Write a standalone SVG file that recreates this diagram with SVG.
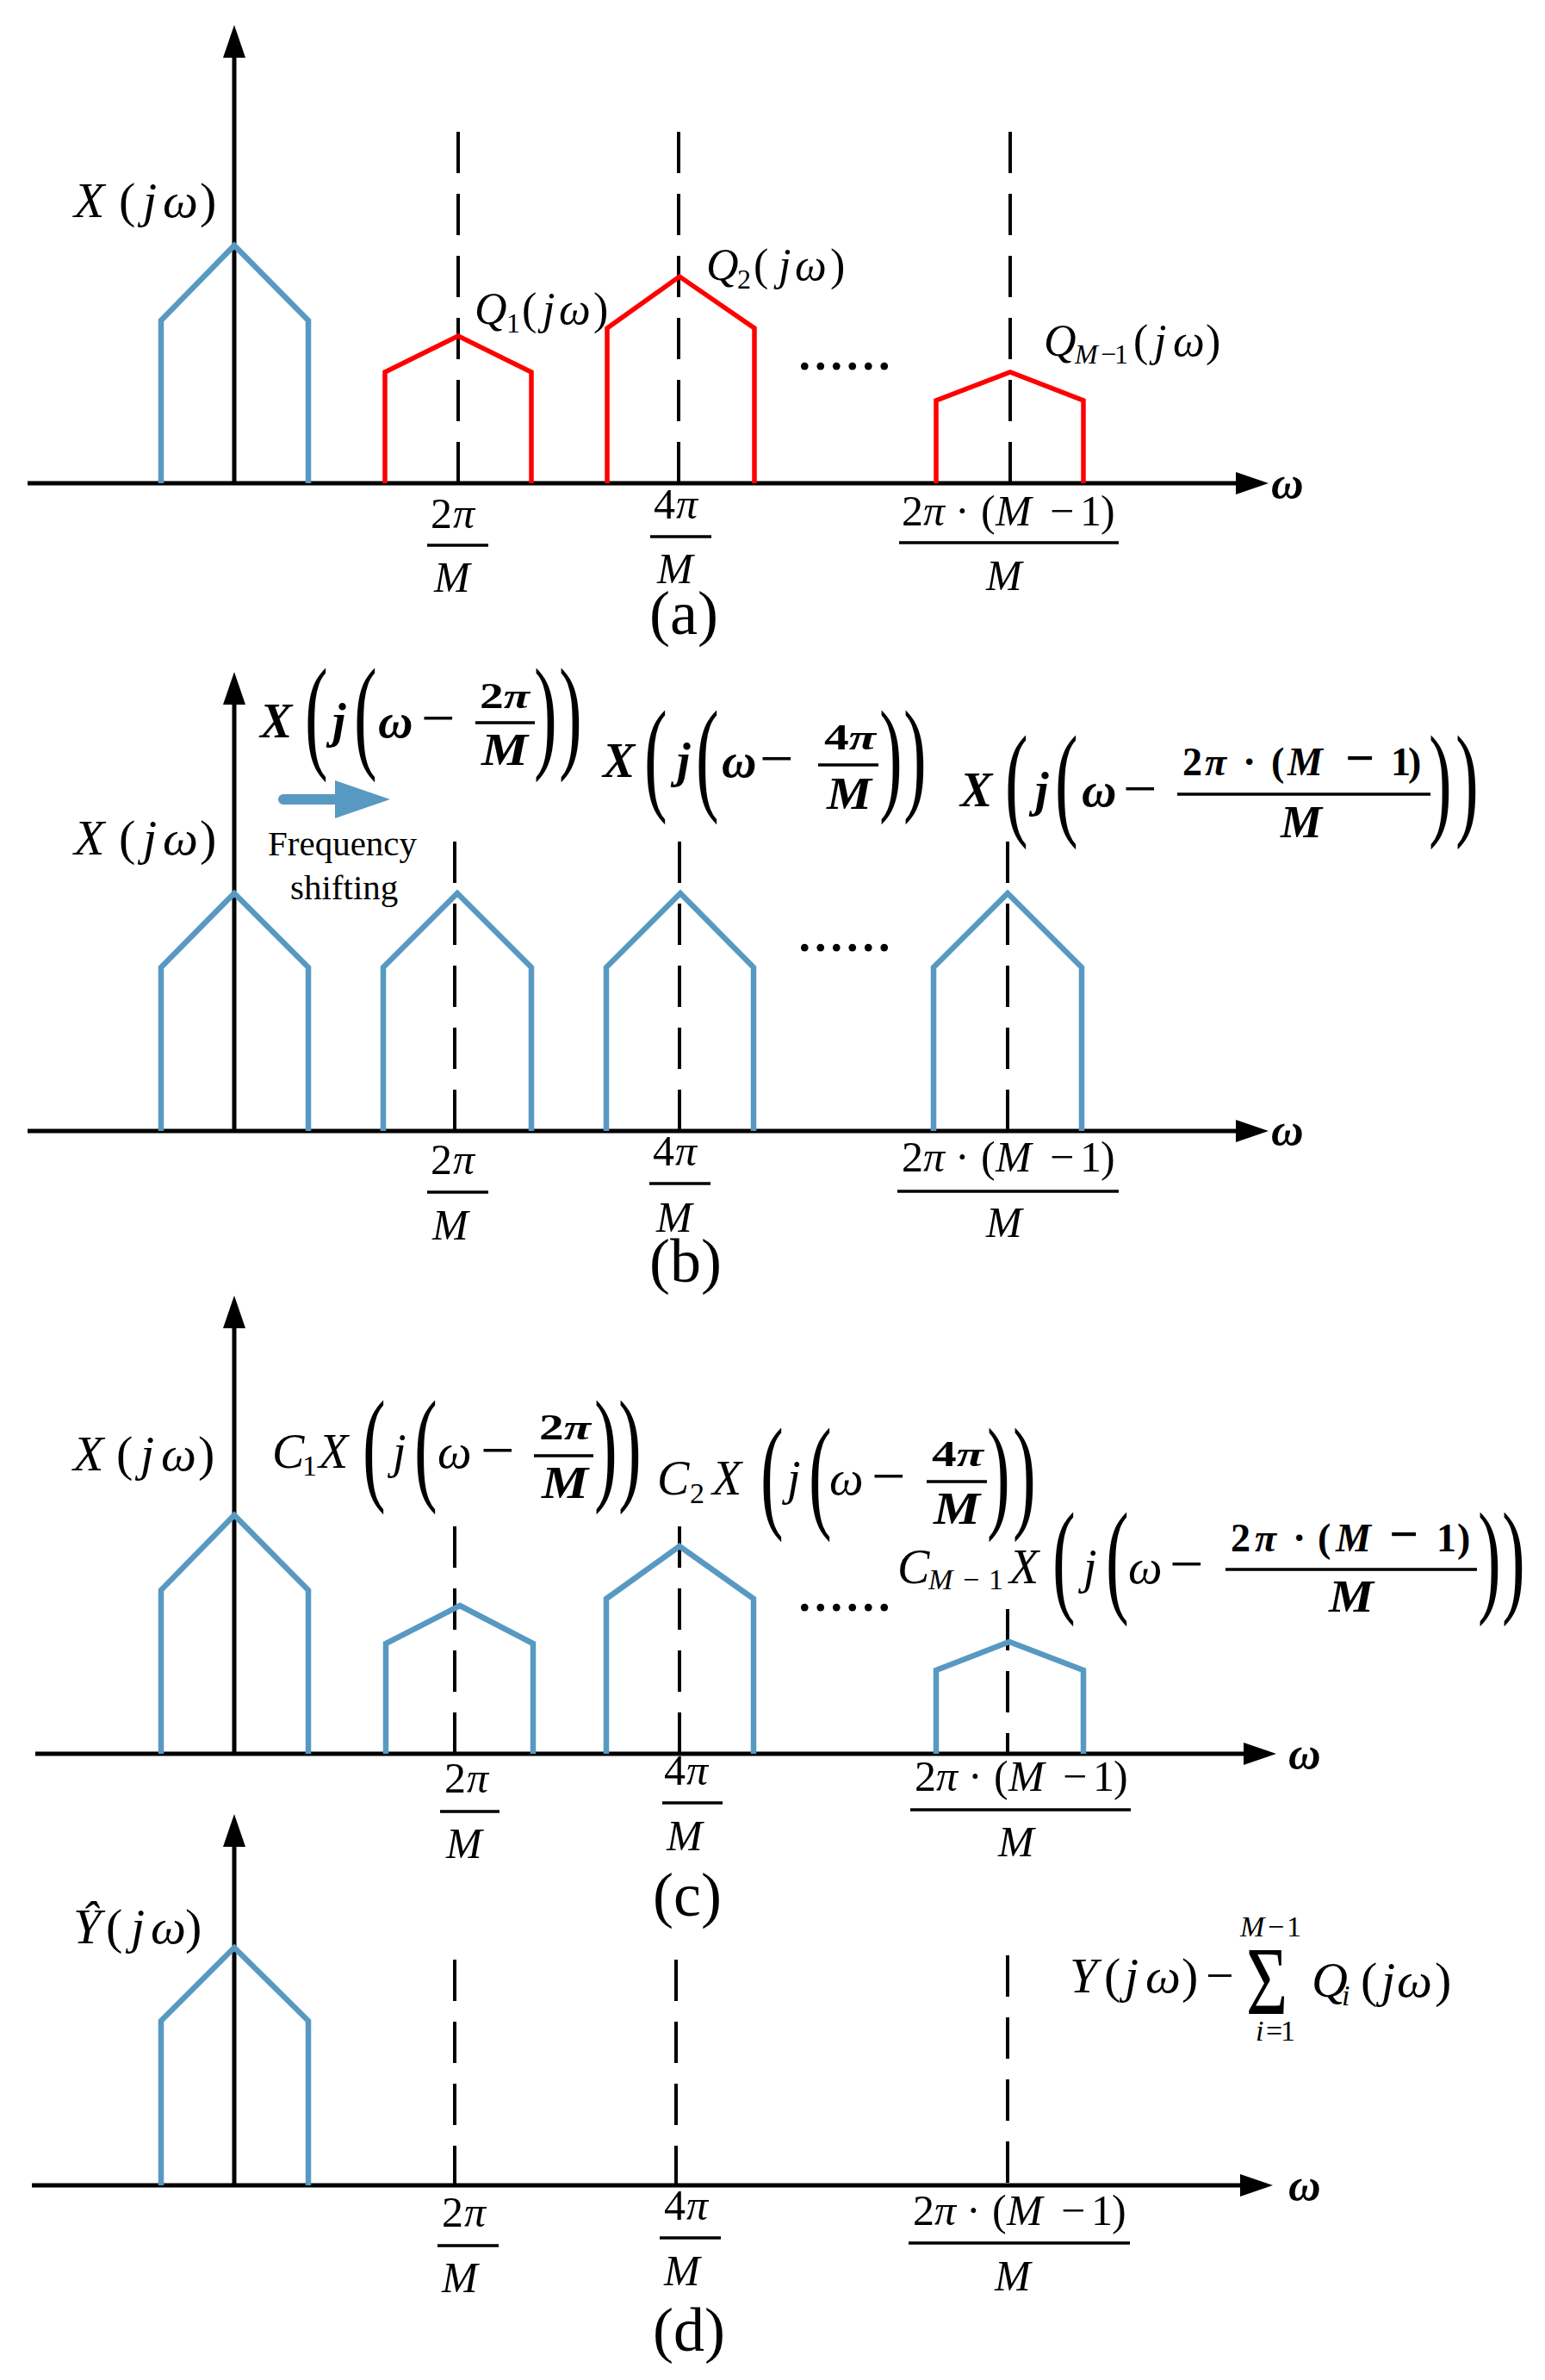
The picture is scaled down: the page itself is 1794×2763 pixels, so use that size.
<svg xmlns="http://www.w3.org/2000/svg" width="1794" height="2763" viewBox="0 0 1794 2763">
<defs>
<style>
.s{font-family:"Liberation Serif","Times New Roman",serif;fill:#000}
.i{font-style:italic}
.n{font-style:normal}
.b{font-weight:bold}
.ax{stroke:#000;stroke-width:5;fill:none}
.dl{stroke:#000;stroke-width:4;stroke-dasharray:48 24;fill:none}
.bl{stroke:#5899C2;stroke-width:6.5;fill:none;stroke-linejoin:miter}
.rd{stroke:#FF0000;stroke-width:5.5;fill:none;stroke-linejoin:miter}
.fb{stroke:#000;stroke-width:3.5}
.lb{font-size:58px}
.ql{font-size:52px}
.sb{font-size:32px}
.tk{font-size:50px}
.bp{font-size:146px}
.pl{font-size:72px}
.om{font-size:52px}
.dots{font-size:74px}
.fx{font-size:56px}
.mn{font-size:70px}
</style>
<marker id="ah" markerUnits="userSpaceOnUse" markerWidth="40" markerHeight="28" refX="0" refY="14" orient="auto" viewBox="0 0 40 28"><path d="M0,1 L38,14 L0,27 z" fill="#000"/></marker>
</defs>
<rect width="1794" height="2763" fill="#fff"/>

<!-- ================= PANEL (a) ================= -->
<g id="panel-a">
<g id="connectors-a">
<line class="ax" x1="32" y1="561" x2="1435" y2="561" marker-end="url(#ah)"/>
<line class="ax" x1="272" y1="561" x2="272" y2="67" marker-end="url(#ah)"/>
<line class="dl" x1="532" y1="153" x2="532" y2="561"/>
<line class="dl" x1="788" y1="153" x2="788" y2="561"/>
<line class="dl" x1="1173" y1="153" x2="1173" y2="561"/>
</g>
<polyline id="a-x0" class="bl" points="187,561 187,372 272,285 358,372 358,561"/>
<polyline id="a-q1" class="rd" points="447,561 447,432 532,390 617,432 617,561"/>
<polyline id="a-q2" class="rd" points="705,561 705,381 789,321 876,381 876,561"/>
<polyline id="a-qm" class="rd" points="1087,561 1087,465 1173,432 1258,465 1258,561"/>
<text class="s i lb" y="252"><tspan x="86">X</tspan><tspan class="n" x="138">(</tspan><tspan x="166">j</tspan><tspan x="189">ω</tspan><tspan class="n" x="232">)</tspan></text>
<g id="a-q1-label"><text class="s i ql" y="376"><tspan x="551">Q</tspan><tspan class="n" x="606">(</tspan><tspan x="630">j</tspan><tspan x="649">ω</tspan><tspan class="n" x="689">)</tspan></text><text class="s sb" x="588" y="386">1</text></g>
<g id="a-q2-label"><text class="s i ql" y="325"><tspan x="820">Q</tspan><tspan class="n" x="875">(</tspan><tspan x="904">j</tspan><tspan x="923">ω</tspan><tspan class="n" x="964">)</tspan></text><text class="s sb" x="856" y="335">2</text></g>
<g id="a-qm-label"><text class="s i ql" y="413"><tspan x="1212">Q</tspan><tspan class="n" x="1316">(</tspan><tspan x="1340">j</tspan><tspan x="1362">ω</tspan><tspan class="n" x="1400">)</tspan></text><text class="s sb" y="422"><tspan class="i" x="1248">M</tspan><tspan x="1278">−</tspan><tspan x="1294">1</tspan></text></g>
<text class="s dots" x="925" y="429">......</text>
<text class="s i b om" x="1476" y="578">ω</text>
<g id="a-t1" transform="translate(500,613)"><text class="s tk"><tspan x="0">2</tspan><tspan class="i" x="26">π</tspan></text><line class="fb" x1="-4" y1="20" x2="67" y2="20"/><text class="s i tk" x="4" y="74">M</text></g>
<g id="a-t2" transform="translate(759,602)"><text class="s tk"><tspan x="0">4</tspan><tspan class="i" x="26">π</tspan></text><line class="fb" x1="-4" y1="21" x2="67" y2="21"/><text class="s i tk" x="4" y="75">M</text></g>
<g id="a-t3" transform="translate(1047,610)"><text class="s tk"><tspan x="0">2</tspan><tspan class="i" x="25">π</tspan><tspan x="62">·</tspan><tspan x="92">(</tspan><tspan class="i" x="109">M</tspan><tspan x="172">−</tspan><tspan x="207">1</tspan><tspan x="231">)</tspan></text><line class="fb" x1="-3" y1="20" x2="252" y2="20"/><text class="s i tk" x="98" y="75">M</text></g>
<text class="s pl" x="754" y="736">(a)</text>
</g>

<!-- ================= PANEL (b) ================= -->
<g id="panel-b">
<g id="connectors-b">
<line class="ax" x1="32" y1="1313" x2="1435" y2="1313" marker-end="url(#ah)"/>
<line class="ax" x1="272" y1="1313" x2="272" y2="818" marker-end="url(#ah)"/>
<line class="dl" x1="528" y1="977" x2="528" y2="1313"/>
<line class="dl" x1="789" y1="977" x2="789" y2="1313"/>
<line class="dl" x1="1170" y1="977" x2="1170" y2="1313"/>
</g>
<polyline id="b-x0" class="bl" points="187,1313 187,1123 272,1037 358,1123 358,1313"/>
<polyline id="b-x1" class="bl" points="445,1313 445,1123 531,1037 617,1123 617,1313"/>
<polyline id="b-x2" class="bl" points="704,1313 704,1123 790,1037 875,1123 875,1313"/>
<polyline id="b-xm" class="bl" points="1084,1313 1084,1123 1170,1037 1256,1123 1256,1313"/>
<g id="b-shift">
<line x1="329" y1="928" x2="392" y2="928" stroke="#5899C2" stroke-width="12" stroke-linecap="round"/>
<polygon points="389,906 453,928 389,950" fill="#5899C2"/>
<text class="s" font-size="41" x="311" y="993">Frequency</text>
<text class="s" font-size="41" x="337" y="1044">shifting</text>
</g>
<text class="s i lb" y="992"><tspan x="86">X</tspan><tspan class="n" x="138">(</tspan><tspan x="166">j</tspan><tspan x="189">ω</tspan><tspan class="n" x="232">)</tspan></text>
<g id="b-f1">
<text class="s i b fx" y="856"><tspan x="302">X</tspan><tspan x="386">j</tspan><tspan x="439">ω</tspan></text>
<text class="s mn" x="489" y="857">−</text>
<text class="s b" font-size="42" y="822" x="557" textLength="58" lengthAdjust="spacingAndGlyphs">2<tspan class="i">π</tspan></text>
<line class="fb" x1="552" y1="839" x2="621" y2="839"/>
<text class="s i b" font-size="52" x="559" y="888" textLength="54" lengthAdjust="spacingAndGlyphs">M</text>
<text class="s bp" transform="translate(354,877) scale(0.55,1)">(</text>
<text class="s bp" transform="translate(411,877) scale(0.55,1)">(</text>
<text class="s bp" transform="translate(620,877) scale(0.55,1)">)</text>
<text class="s bp" transform="translate(649,877) scale(0.55,1)">)</text>
</g>
<g id="b-f2">
<text class="s i b fx" y="902"><tspan x="700">X</tspan><tspan x="786">j</tspan><tspan x="838">ω</tspan></text>
<text class="s mn" x="882" y="904">−</text>
<text class="s b" font-size="42" y="870" x="957" textLength="60" lengthAdjust="spacingAndGlyphs">4<tspan class="i">π</tspan></text>
<line class="fb" x1="950" y1="888" x2="1020" y2="888"/>
<text class="s i b" font-size="52" x="960" y="939" textLength="52" lengthAdjust="spacingAndGlyphs">M</text>
<text class="s bp" transform="translate(748,926) scale(0.55,1)">(</text>
<text class="s bp" transform="translate(808,926) scale(0.55,1)">(</text>
<text class="s bp" transform="translate(1021,926) scale(0.55,1)">)</text>
<text class="s bp" transform="translate(1049,926) scale(0.55,1)">)</text>
</g>
<g id="b-f3">
<text class="s i b fx" y="936"><tspan x="1115">X</tspan><tspan x="1202">j</tspan><tspan x="1256">ω</tspan></text>
<text class="s mn" x="1304" y="939">−</text>
<text class="s b" font-size="46" y="900"><tspan x="1373">2</tspan><tspan class="i" x="1399">π</tspan><tspan x="1443">·</tspan><tspan x="1476">(</tspan><tspan class="i" x="1495">M</tspan><tspan font-size="60" x="1562">−</tspan><tspan x="1615">1</tspan><tspan x="1635">)</tspan></text>
<line class="fb" x1="1367" y1="922" x2="1661" y2="922"/>
<text class="s i b" font-size="52" x="1487" y="972" textLength="48" lengthAdjust="spacingAndGlyphs">M</text>
<text class="s bp" transform="translate(1167,955) scale(0.55,1)">(</text>
<text class="s bp" transform="translate(1225,955) scale(0.55,1)">(</text>
<text class="s bp" transform="translate(1659,955) scale(0.55,1)">)</text>
<text class="s bp" transform="translate(1690,955) scale(0.55,1)">)</text>
</g>
<text class="s dots" x="925" y="1104">......</text>
<text class="s i b om" x="1476" y="1329">ω</text>
<g id="b-t1" transform="translate(500,1363)"><text class="s tk"><tspan x="0">2</tspan><tspan class="i" x="26">π</tspan></text><line class="fb" x1="-4" y1="21" x2="67" y2="21"/><text class="s i tk" x="2" y="76">M</text></g>
<g id="b-t2" transform="translate(758,1353)"><text class="s tk"><tspan x="0">4</tspan><tspan class="i" x="26">π</tspan></text><line class="fb" x1="-4" y1="21" x2="67" y2="21"/><text class="s i tk" x="4" y="77">M</text></g>
<g id="b-t3" transform="translate(1047,1360)"><text class="s tk"><tspan x="0">2</tspan><tspan class="i" x="25">π</tspan><tspan x="62">·</tspan><tspan x="92">(</tspan><tspan class="i" x="109">M</tspan><tspan x="172">−</tspan><tspan x="207">1</tspan><tspan x="231">)</tspan></text><line class="fb" x1="-5" y1="23" x2="252" y2="23"/><text class="s i tk" x="98" y="76">M</text></g>
<text class="s pl" x="754" y="1488">(b)</text>
</g>

<!-- ================= PANEL (c) ================= -->
<g id="panel-c">
<g id="connectors-c">
<line class="ax" x1="41" y1="2036" x2="1444" y2="2036" marker-end="url(#ah)"/>
<line class="ax" x1="272" y1="2036" x2="272" y2="1542" marker-end="url(#ah)"/>
<line class="dl" x1="528" y1="1772" x2="528" y2="2036"/>
<line class="dl" x1="789" y1="1772" x2="789" y2="2036"/>
<line class="dl" x1="1170" y1="1868" x2="1170" y2="2036"/>
</g>
<polyline id="c-x0" class="bl" points="187,2036 187,1846 272,1759 358,1846 358,2036"/>
<polyline id="c-x1" class="bl" points="448,2036 448,1908 534,1864 619,1908 619,2036"/>
<polyline id="c-x2" class="bl" points="704,2036 704,1856 789,1795 875,1856 875,2036"/>
<polyline id="c-xm" class="bl" points="1087,2036 1087,1939 1172,1906 1258,1939 1258,2036"/>
<text class="s i lb" y="1707"><tspan x="85">X</tspan><tspan class="n" x="135">(</tspan><tspan x="163">j</tspan><tspan x="187">ω</tspan><tspan class="n" x="230">)</tspan></text>
<g id="c-f1">
<text class="s i fx" y="1704"><tspan x="316">C</tspan><tspan x="370">X</tspan><tspan x="456">j</tspan><tspan x="508">ω</tspan></text>
<text class="s" font-size="34" x="351" y="1713">1</text>
<text class="s mn" x="558" y="1707">−</text>
<text class="s b" font-size="42" y="1671" x="626" textLength="60" lengthAdjust="spacingAndGlyphs">2<tspan class="i">π</tspan></text>
<line class="fb" x1="620" y1="1690" x2="689" y2="1690"/>
<text class="s i b" font-size="52" x="629" y="1739" textLength="54" lengthAdjust="spacingAndGlyphs">M</text>
<text class="s bp" transform="translate(421,1727) scale(0.55,1)">(</text>
<text class="s bp" transform="translate(481,1727) scale(0.55,1)">(</text>
<text class="s bp" transform="translate(690,1727) scale(0.55,1)">)</text>
<text class="s bp" transform="translate(718,1727) scale(0.55,1)">)</text>
</g>
<g id="c-f2">
<text class="s i fx" y="1735"><tspan x="763">C</tspan><tspan x="827">X</tspan><tspan x="914">j</tspan><tspan x="963">ω</tspan></text>
<text class="s" font-size="34" x="801" y="1745">2</text>
<text class="s mn" x="1012" y="1737">−</text>
<text class="s b" font-size="42" y="1702" x="1082" textLength="60" lengthAdjust="spacingAndGlyphs">4<tspan class="i">π</tspan></text>
<line class="fb" x1="1076" y1="1720" x2="1146" y2="1720"/>
<text class="s i b" font-size="52" x="1084" y="1769" textLength="54" lengthAdjust="spacingAndGlyphs">M</text>
<text class="s bp" transform="translate(883,1759) scale(0.55,1)">(</text>
<text class="s bp" transform="translate(939,1759) scale(0.55,1)">(</text>
<text class="s bp" transform="translate(1146,1759) scale(0.55,1)">)</text>
<text class="s bp" transform="translate(1176,1759) scale(0.55,1)">)</text>
</g>
<g id="c-f3">
<text class="s i fx" y="1838"><tspan x="1042">C</tspan><tspan x="1172">X</tspan><tspan x="1258">j</tspan><tspan x="1310">ω</tspan></text>
<text class="s" font-size="34" y="1845"><tspan class="i" x="1078">M</tspan><tspan x="1118">−</tspan><tspan x="1148">1</tspan></text>
<text class="s mn" x="1358" y="1839">−</text>
<text class="s b" font-size="46" y="1801"><tspan x="1429">2</tspan><tspan class="i" x="1457">π</tspan><tspan x="1501">·</tspan><tspan x="1530">(</tspan><tspan class="i" x="1551">M</tspan><tspan font-size="60" x="1613">−</tspan><tspan x="1668">1</tspan><tspan x="1692">)</tspan></text>
<line class="fb" x1="1423" y1="1822" x2="1715" y2="1822"/>
<text class="s i b" font-size="52" x="1543" y="1871" textLength="52" lengthAdjust="spacingAndGlyphs">M</text>
<text class="s bp" transform="translate(1222,1857) scale(0.55,1)">(</text>
<text class="s bp" transform="translate(1284,1857) scale(0.55,1)">(</text>
<text class="s bp" transform="translate(1716,1857) scale(0.55,1)">)</text>
<text class="s bp" transform="translate(1744,1857) scale(0.55,1)">)</text>
</g>
<text class="s dots" x="925" y="1870">......</text>
<text class="s i b om" x="1496" y="2053">ω</text>
<g id="c-t1" transform="translate(516,2081)"><text class="s tk"><tspan x="0">2</tspan><tspan class="i" x="26">π</tspan></text><line class="fb" x1="-5" y1="22" x2="64" y2="22"/><text class="s i tk" x="2" y="76">M</text></g>
<g id="c-t2" transform="translate(771,2072)"><text class="s tk"><tspan x="0">4</tspan><tspan class="i" x="26">π</tspan></text><line class="fb" x1="-2" y1="21" x2="68" y2="21"/><text class="s i tk" x="3" y="76">M</text></g>
<g id="c-t3" transform="translate(1062,2079)"><text class="s tk"><tspan x="0">2</tspan><tspan class="i" x="25">π</tspan><tspan x="62">·</tspan><tspan x="92">(</tspan><tspan class="i" x="109">M</tspan><tspan x="172">−</tspan><tspan x="207">1</tspan><tspan x="231">)</tspan></text><line class="fb" x1="-5" y1="22" x2="251" y2="22"/><text class="s i tk" x="97" y="76">M</text></g>
<text class="s pl" x="758" y="2224">(c)</text>
</g>

<!-- ================= PANEL (d) ================= -->
<g id="panel-d">
<g id="connectors-d">
<line class="ax" x1="37" y1="2537" x2="1440" y2="2537" marker-end="url(#ah)"/>
<line class="ax" x1="272" y1="2537" x2="272" y2="2144" marker-end="url(#ah)"/>
<line class="dl" x1="528" y1="2275" x2="528" y2="2537"/>
<line class="dl" x1="785" y1="2275" x2="785" y2="2537"/>
<line class="dl" x1="1170" y1="2270" x2="1170" y2="2537"/>
</g>
<polyline id="d-y0" class="bl" points="187,2537 187,2346 272,2261 358,2346 358,2537"/>
<text class="s i lb" y="2256"><tspan x="85">Ŷ</tspan><tspan class="n" x="123">(</tspan><tspan x="152">j</tspan><tspan x="175">ω</tspan><tspan class="n" x="215">)</tspan></text>
<g id="d-sum">
<text class="s i lb" y="2313"><tspan x="1242">Y</tspan><tspan class="n" x="1282">(</tspan><tspan x="1306">j</tspan><tspan x="1330">ω</tspan><tspan class="n" x="1372">)</tspan><tspan class="n" x="1400">−</tspan></text>
<text class="s" font-size="112" transform="translate(1447,2338) scale(0.74,1)">Σ</text>
<text class="s" font-size="34" y="2248"><tspan class="i" x="1440">M</tspan><tspan x="1472">−</tspan><tspan x="1494">1</tspan></text>
<text class="s" font-size="34" y="2369"><tspan class="i" x="1458">i</tspan><tspan x="1470">=</tspan><tspan x="1487">1</tspan></text>
<text class="s i lb" y="2318"><tspan x="1523">Q</tspan><tspan class="n" x="1580">(</tspan><tspan x="1604">j</tspan><tspan x="1622">ω</tspan><tspan class="n" x="1666">)</tspan></text>
<text class="s i" font-size="34" x="1558" y="2328">i</text>
</g>
<text class="s i b om" x="1496" y="2554">ω</text>
<g id="d-t1" transform="translate(513,2585)"><text class="s tk"><tspan x="0">2</tspan><tspan class="i" x="26">π</tspan></text><line class="fb" x1="-5" y1="22" x2="66" y2="22"/><text class="s i tk" x="0" y="76">M</text></g>
<g id="d-t2" transform="translate(771,2577)"><text class="s tk"><tspan x="0">4</tspan><tspan class="i" x="26">π</tspan></text><line class="fb" x1="-5" y1="21" x2="66" y2="21"/><text class="s i tk" x="0" y="76">M</text></g>
<g id="d-t3" transform="translate(1060,2583)"><text class="s tk"><tspan x="0">2</tspan><tspan class="i" x="25">π</tspan><tspan x="62">·</tspan><tspan x="92">(</tspan><tspan class="i" x="109">M</tspan><tspan x="172">−</tspan><tspan x="207">1</tspan><tspan x="231">)</tspan></text><line class="fb" x1="-5" y1="21" x2="252" y2="21"/><text class="s i tk" x="95" y="76">M</text></g>
<text class="s pl" x="758" y="2729">(d)</text>
</g>
</svg>
